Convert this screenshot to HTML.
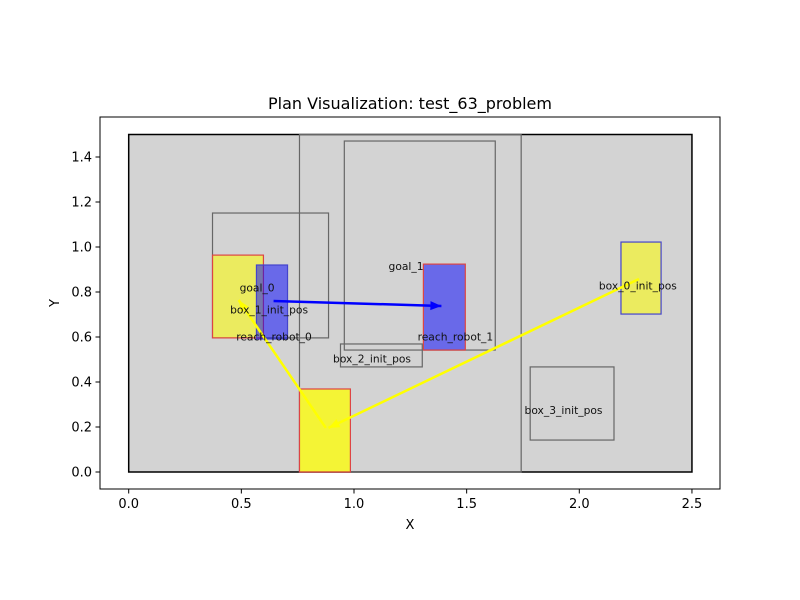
<!DOCTYPE html>
<html><head><meta charset="utf-8"><style>
html,body{margin:0;padding:0;background:#fff;}
svg{display:block;font-family:"DejaVu Sans","Liberation Sans",sans-serif;}
</style></head><body>
<svg id="chart" width="800" height="600" xmlns="http://www.w3.org/2000/svg">
<text x="410" y="109" text-anchor="middle" font-size="16">Plan Visualization: test_63_problem</text>
<g id="plot"></g>
<rect x="100" y="117" width="620" height="372" fill="none" stroke="#000" stroke-width="1"/>
<text x="410" y="529" text-anchor="middle" font-size="13">X</text>
<text x="59" y="303" text-anchor="middle" font-size="13" transform="rotate(-90 59 303)">Y</text>
</svg>
<script>
const xTicks=[0,0.5,1,1.5,2,2.5];
const xTickLabels=["0.0","0.5","1.0","1.5","2.0","2.5"];
const yTicks=[0,0.2,0.4,0.6,0.8,1.0,1.2,1.4];
const yTickLabels=["0.0","0.2","0.4","0.6","0.8","1.0","1.2","1.4"];
// rects: [x0,y0,x1,y1]
const rectNames=["workspace","region-mid","region-top","region-left","box-1-init","reach-robot-0","goal-1","box-2-init","yellow-box","box-0-init","box-3-init"];
const rectCoords=[[0,0,2.5,1.5],[0.758,0,1.742,1.5],[0.957,0.542,1.627,1.471],[0.372,0.596,0.887,1.151],[0.372,0.596,0.598,0.964],[0.567,0.591,0.705,0.92],[1.308,0.542,1.494,0.924],[0.94,0.467,1.303,0.569],[0.758,0,0.984,0.369],[2.185,0.702,2.363,1.022],[1.782,0.142,2.154,0.467]];
const rectFills=["#d3d3d3","none","none","none","rgba(255,255,0,0.55)","rgba(0,0,255,0.5)","rgba(0,0,255,0.5)","none","rgba(255,255,0,0.75)","rgba(255,255,0,0.55)","none"];
const rectStrokes=["#000","#666","#666","#666","#d44","#44c","#d44","#666","#d44","#44c","#666"];
const labelTexts=["goal_0","box_1_init_pos","reach_robot_0","goal_1","reach_robot_1","box_2_init_pos","box_0_init_pos","box_3_init_pos"];
const labelX=[0.57,0.623,0.645,1.231,1.45,1.08,2.26,1.93];
const labelY=[0.82,0.723,0.603,0.915,0.603,0.505,0.83,0.275];
const arrowFrom=[[0.643,0.76],[2.265,0.858],[0.875,0.196]];
const arrowTo=[[1.388,0.738],[0.887,0.196],[0.488,0.764]];
const arrowColors=["#0000ff","#ffff00","#ffff00"];

const X=v=>128.7+v*225.3;
const Y=v=>472-v*225;
const NS="http://www.w3.org/2000/svg";
const svg=document.getElementById('chart');
const g=document.getElementById('plot');
function mk(t,a,p){const e=document.createElementNS(NS,t);for(const k in a)e.setAttribute(k,a[k]);(p||g).appendChild(e);return e;}
rectCoords.forEach((r,i)=>{
  const e=mk('rect',{x:X(r[0]),y:Y(r[3]),width:X(r[2])-X(r[0]),height:Y(r[1])-Y(r[3]),fill:rectFills[i],stroke:rectStrokes[i],'stroke-width':i===0?1.5:1.2});
  
  
});
arrowFrom.forEach((f,i)=>{
  const x1=X(f[0]),y1=Y(f[1]),x2=X(arrowTo[i][0]),y2=Y(arrowTo[i][1]);
  const e=mk('line',{x1,y1,x2,y2,stroke:arrowColors[i],'stroke-width':2.5});
  
  
  const ang=Math.atan2(y2-y1,x2-x1),L=11,W=4.5;
  const bx=x2-L*Math.cos(ang),by=y2-L*Math.sin(ang);
  const pts=[[x2,y2],[bx-W*Math.sin(ang),by+W*Math.cos(ang)],[bx+W*Math.sin(ang),by-W*Math.cos(ang)]];
  const h=mk('polygon',{points:pts.map(p=>p.join(',')).join(' '),fill:arrowColors[i]});
  
  
});
labelTexts.forEach((t,i)=>{
  const e=mk('text',{x:X(labelX[i]),y:Y(labelY[i])+4,'text-anchor':'middle','font-size':10.7,fill:'#111'});
  e.textContent=t;
  
  
});
xTicks.forEach((v,i)=>{
  const x=X(v);
  const l=mk('line',{x1:x,y1:489,x2:x,y2:493.5,stroke:'#000'},svg);
  
  
  const t=mk('text',{x:x,y:508,'text-anchor':'middle','font-size':13},svg);
  t.textContent=xTickLabels[i];
  
  
});
yTicks.forEach((v,i)=>{
  const y=Y(v);
  const l=mk('line',{x1:95.5,y1:y,x2:100,y2:y,stroke:'#000'},svg);
  
  
  const t=mk('text',{x:92,y:y+4.5,'text-anchor':'end','font-size':13},svg);
  t.textContent=yTickLabels[i];
  
  
});
</script>
</body></html>
